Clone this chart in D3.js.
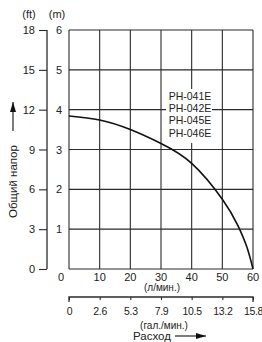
<!DOCTYPE html>
<html lang="ru">
  <head>
    <meta charset="utf-8" />
    <title>Напорная характеристика</title>
    <script src="https://cdn.jsdelivr.net/npm/d3@7"></script>
    <style>
      body { margin: 0; background: #fff; }
      svg text { font-family: "Liberation Sans", Arial, sans-serif; fill: #222; }
    </style>
  </head>
  <body>
    <script>
      // chart data
      var flowLpm = [0, 10, 20, 30, 40, 50, 55, 58, 60];
      var headM = [3.84, 3.74, 3.5, 3.15, 2.65, 1.75, 1.1, 0.55, 0];
      var xTicksLpm = [0, 10, 20, 30, 40, 50, 60];
      var galLabels = ["0", "2.6", "5.3", "7.9", "10.5", "13.2", "15.8"];
      var mTicks = [0, 1, 2, 3, 4, 5, 6];
      var ftTicks = [0, 3, 6, 9, 12, 15, 18];
      var models = ["PH-041E", "PH-042E", "PH-045E", "PH-046E"];

      var w = 262, h = 342;
      // plot box (window.top is reserved, so use other names)
      var plotL = 69, plotR = 253, plotT = 30, plotB = 269;
      var ink = "#2a2a2a";

      var x = d3.scaleLinear().domain([0, 60]).range([plotL, plotR]);
      var y = d3.scaleLinear().domain([0, 6]).range([plotB, plotT]);
      var yFt = d3.scaleLinear().domain([0, 18]).range([plotB, plotT]);

      var svg = d3.select("body").append("svg")
        .attr("width", w).attr("height", h);

      // grid
      svg.append("g").selectAll("line").data(xTicksLpm).enter().append("line")
        .attr("x1", function (d) { return x(d); })
        .attr("x2", function (d) { return x(d); })
        .attr("y1", plotT).attr("y2", plotB)
        .attr("stroke", ink).attr("stroke-width", 1.1);
      svg.append("g").selectAll("line").data(mTicks).enter().append("line")
        .attr("x1", plotL).attr("x2", plotR)
        .attr("y1", function (d) { return y(d); })
        .attr("y2", function (d) { return y(d); })
        .attr("stroke", ink).attr("stroke-width", 1.1);

      // white box behind the model list
      svg.append("rect")
        .attr("x", 166).attr("y", 89).attr("width", 46).attr("height", 54)
        .attr("fill", "#fff");

      svg.selectAll(".model").data(models).enter().append("text")
        .attr("class", "model")
        .attr("x", 190)
        .attr("y", function (d, i) { return 100 + i * 12.2; })
        .attr("text-anchor", "middle")
        .attr("font-size", "10.5px")
        .text(function (d) { return d; });

      // curve
      var line = d3.line()
        .x(function (d) { return x(d[0]); })
        .y(function (d) { return y(d[1]); })
        .curve(d3.curveNatural);
      svg.append("path")
        .datum(d3.zip(flowLpm, headM))
        .attr("d", line)
        .attr("fill", "none")
        .attr("stroke", "#111")
        .attr("stroke-width", 1.6);

      // m labels (the 0 spot is taken by the l/min zero)
      svg.selectAll(".mlab").data(mTicks.filter(function (d) { return d > 0; }))
        .enter().append("text")
        .attr("class", "mlab")
        .attr("x", 59)
        .attr("y", function (d) { return y(d) + 4; })
        .attr("text-anchor", "middle")
        .attr("font-size", "11px")
        .text(function (d) { return d; });

      // ft axis
      var ftAxis = d3.axisLeft(yFt).tickValues(ftTicks).tickSize(8).tickPadding(4);
      var gFt = svg.append("g").attr("transform", "translate(47,0)").call(ftAxis);
      gFt.select(".domain").attr("d", "M0," + plotT + "V" + plotB).attr("stroke", ink).attr("stroke-width", 1.3);
      gFt.selectAll(".tick line").attr("stroke", ink).attr("stroke-width", 1.1);
      gFt.selectAll(".tick text").attr("font-size", "11px")
        .attr("font-family", "Liberation Sans, Arial, sans-serif").attr("fill", "#222");

      svg.append("text").attr("x", 29).attr("y", 18).attr("text-anchor", "middle")
        .attr("font-size", "11px").text("(ft)");
      svg.append("text").attr("x", 57).attr("y", 18).attr("text-anchor", "middle")
        .attr("font-size", "11px").text("(m)");

      // l/min labels
      svg.selectAll(".xlab").data(xTicksLpm).enter().append("text")
        .attr("class", "xlab")
        .attr("x", function (d) { return d === 0 ? x(d) - 8 : x(d); })
        .attr("y", 281)
        .attr("text-anchor", "middle")
        .attr("font-size", "11px")
        .text(function (d) { return d; });
      svg.append("text").attr("x", 162).attr("y", 291).attr("text-anchor", "middle")
        .attr("font-size", "10px").text("(л/мин.)");

      // gal/min axis
      var galAxis = d3.axisBottom(x).tickValues(xTicksLpm)
        .tickFormat(function (d, i) { return galLabels[i]; })
        .tickSize(3).tickPadding(8).tickSizeOuter(0);
      var gGal = svg.append("g").attr("transform", "translate(0,297)").call(galAxis);
      gGal.select(".domain").attr("d", "M" + plotL + ",5V0H" + plotR + "V5")
        .attr("stroke", ink).attr("stroke-width", 1.3);
      gGal.selectAll(".tick line").attr("stroke", ink).attr("stroke-width", 1.1);
      gGal.selectAll(".tick text").attr("font-size", "10.5px")
        .attr("letter-spacing", "-0.3px")
        .attr("font-family", "Liberation Sans, Arial, sans-serif").attr("fill", "#222");
      svg.append("text").attr("x", 164).attr("y", 329).attr("text-anchor", "middle")
        .attr("font-size", "10px").text("(гал./мин.)");

      // arrows
      svg.append("defs").append("marker")
        .attr("id", "head").attr("viewBox", "0 0 10 6")
        .attr("refX", 10).attr("refY", 3)
        .attr("markerWidth", 10).attr("markerHeight", 6)
        .attr("markerUnits", "userSpaceOnUse")
        .attr("orient", "auto")
        .append("path").attr("d", "M0,0L10,3L0,6Z").attr("fill", "#111");

      svg.append("text").attr("x", 133).attr("y", 340)
        .attr("font-size", "11.5px").text("Расход");
      svg.append("line").attr("x1", 175).attr("x2", 206).attr("y1", 336).attr("y2", 336)
        .attr("stroke", "#111").attr("stroke-width", 1.1).attr("marker-end", "url(#head)");

      svg.append("text")
        .attr("transform", "translate(17,218) rotate(-90)")
        .attr("font-size", "11.5px").text("Общий напор");
      svg.append("line").attr("x1", 13).attr("x2", 13).attr("y1", 131).attr("y2", 102)
        .attr("stroke", "#111").attr("stroke-width", 1.1).attr("marker-end", "url(#head)");
    </script>
  </body>
</html>
